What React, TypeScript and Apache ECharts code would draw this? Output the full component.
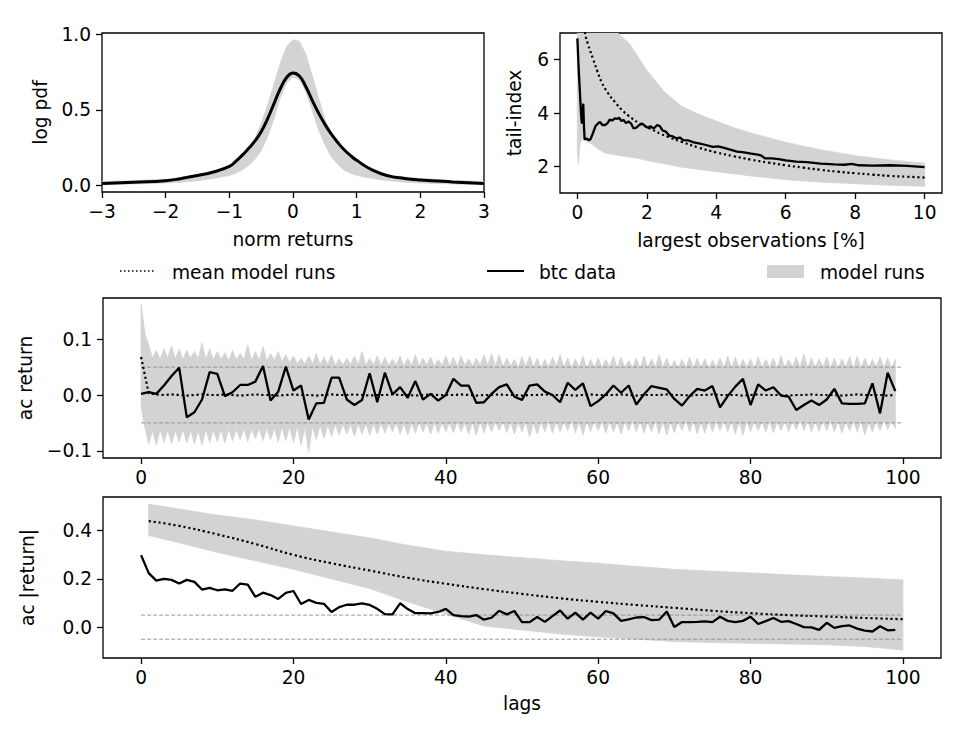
import { useEffect, useRef } from "react";
import * as echarts from "echarts";

// ---------- distribution of normalised returns ----------
const pdfX = [-3, -2.5, -2, -1.75, -1.5, -1.25, -1, -0.9, -0.8, -0.7, -0.6, -0.5, -0.4, -0.3, -0.2, -0.1, 0, 0.1, 0.2, 0.3, 0.4, 0.5, 0.6, 0.7, 0.8, 0.9, 1, 1.25, 1.5, 1.75, 2, 2.5, 3];
const btcPdf = [0.011, 0.02, 0.03, 0.045, 0.064, 0.088, 0.125, 0.158, 0.198, 0.243, 0.292, 0.355, 0.44, 0.54, 0.64, 0.715, 0.745, 0.725, 0.655, 0.565, 0.48, 0.405, 0.34, 0.285, 0.237, 0.198, 0.165, 0.1, 0.062, 0.045, 0.035, 0.022, 0.011];
const runsPdfHigh = [0.025, 0.03, 0.04, 0.05, 0.07, 0.09, 0.12, 0.15, 0.19, 0.24, 0.31, 0.41, 0.53, 0.67, 0.81, 0.92, 0.965, 0.955, 0.87, 0.73, 0.58, 0.44, 0.34, 0.27, 0.22, 0.185, 0.155, 0.1, 0.07, 0.055, 0.045, 0.032, 0.025];
const runsPdfLow = [0.003, 0.008, 0.015, 0.02, 0.03, 0.045, 0.065, 0.08, 0.1, 0.13, 0.17, 0.23, 0.32, 0.44, 0.58, 0.68, 0.72, 0.7, 0.62, 0.5, 0.37, 0.27, 0.19, 0.14, 0.1, 0.08, 0.065, 0.045, 0.03, 0.02, 0.015, 0.008, 0.003];

// ---------- tail index vs. share of largest observations ----------
const tailBtcX = [0.0, 0.04, 0.08, 0.11, 0.13, 0.15, 0.17, 0.19, 0.21, 0.26, 0.32, 0.38, 0.45, 0.52, 0.6, 0.66, 0.72, 0.8, 0.87, 0.93, 1.0, 1.08, 1.15, 1.2, 1.27, 1.33, 1.4, 1.47, 1.55, 1.62, 1.7, 1.78, 1.87, 1.95, 2.02, 2.1, 2.2, 2.3, 2.38, 2.45, 2.55, 2.65, 2.75, 2.85, 2.95, 3.05, 3.2, 3.35, 3.5, 3.7, 3.9, 4.05, 4.2, 4.4, 4.6, 4.8, 5.0, 5.2, 5.3, 5.4, 5.6, 5.8, 6.0, 6.3, 6.6, 7.0, 7.4, 7.7, 7.9, 8.1, 8.5, 9.0, 9.5, 10.0];
const tailBtcY = [6.8, 5.6, 4.6, 3.9, 3.6, 4.0, 4.35, 3.5, 3.0, 3.05, 2.98, 3.02, 3.25, 3.5, 3.62, 3.66, 3.55, 3.55, 3.62, 3.75, 3.72, 3.8, 3.78, 3.82, 3.7, 3.74, 3.62, 3.68, 3.6, 3.42, 3.45, 3.55, 3.6, 3.52, 3.45, 3.5, 3.42, 3.55, 3.5, 3.35, 3.3, 3.15, 3.12, 3.05, 3.08, 2.98, 2.97, 2.9, 2.86, 2.8, 2.73, 2.75, 2.7, 2.63, 2.55, 2.52, 2.48, 2.44, 2.4, 2.3, 2.3, 2.27, 2.22, 2.18, 2.16, 2.1, 2.07, 2.06, 2.09, 2.04, 2.03, 2.04, 2.02, 1.97];
const tailMeanX = [0.15, 0.22, 0.3, 0.46, 0.58, 0.7, 0.88, 1.09, 1.28, 1.47, 1.8, 2.1, 2.4, 2.62, 3.0, 3.5, 4.0, 4.5, 5.0, 5.5, 6.0, 6.5, 7.0, 7.5, 8.0, 8.5, 9.0, 9.5, 10.0];
const tailMeanY = [7.6, 7.0, 6.6, 6.0, 5.55, 5.15, 4.75, 4.4, 4.12, 3.9, 3.6, 3.41, 3.22, 3.1, 2.92, 2.7, 2.52, 2.38, 2.25, 2.14, 2.04, 1.95, 1.87, 1.8, 1.74, 1.69, 1.64, 1.61, 1.58];
const tailRunsX = [0, 0.03, 0.08, 0.15, 0.25, 0.4, 0.6, 0.8, 1.0, 1.25, 1.5, 1.75, 2, 2.5, 3, 3.5, 4, 4.5, 5, 6, 7, 8, 9, 10];
const tailRunsHigh = [7.5, 7.5, 7.5, 7.5, 7.5, 7.5, 7.5, 7.5, 7.2, 6.9, 6.6, 6.1, 5.6, 4.8, 4.25, 3.95, 3.7, 3.45, 3.25, 2.9, 2.62, 2.4, 2.24, 2.12];
const tailRunsLow = [2.5, 2.1, 2.9, 3.05, 2.95, 2.85, 2.65, 2.5, 2.45, 2.4, 2.35, 2.3, 2.22, 2.1, 1.97, 1.88, 1.8, 1.72, 1.64, 1.5, 1.41, 1.35, 1.29, 1.25];

// ---------- autocorrelation of returns, lags 0..99 ----------
const acRetBtc = [
  0.002, 0.005, 0.002, 0.017, 0.034, 0.049, -0.04, -0.031, -0.008, 0.041,
  0.038, -0.002, 0.005, 0.018, 0.018, 0.024, 0.052, -0.01, 0.006, 0.051,
  0.008, 0.017, -0.044, -0.015, -0.014, 0.031, 0.031, -0.008, -0.018, -0.009,
  0.039, -0.013, 0.04, 0.001, 0.014, -0.005, 0.025, -0.008, 0.002, -0.01,
  0.0, 0.029, 0.017, 0.017, -0.014, -0.013, 0.002, 0.014, 0.019, -0.003,
  -0.009, 0.017, 0.019, 0.006, 0.0, -0.013, 0.022, 0.009, 0.021, -0.02,
  -0.011, 0.001, 0.017, 0.004, 0.017, -0.017, 0.001, 0.016, 0.013, 0.01,
  -0.007, -0.019, -0.002, 0.011, 0.008, 0.016, -0.022, -0.002, 0.015, 0.029,
  -0.018, 0.019, 0.008, 0.014, -0.001, -0.003, -0.027, -0.018, -0.01, -0.018,
  -0.008, 0.011, -0.015, -0.016, -0.016, -0.015, 0.021, -0.033, 0.04, 0.007,
];
const acRetMean = [
  0.068, 0.003, 0.001, 0.0, 0.001, 0.0, -0.001, 0.0, 0.001, 0.0,
  0.0, 0.001, 0.0, -0.001, 0.0, 0.001, 0.0, 0.0, -0.001, 0.0,
  0.001, 0.0, 0.0, -0.001, 0.0, 0.001, 0.0, 0.0, 0.001, 0.0,
  -0.001, 0.0, 0.0, 0.001, 0.0, 0.0, -0.001, 0.0, 0.001, 0.0,
  0.0, 0.0, 0.001, 0.0, -0.001, 0.0, 0.0, 0.001, 0.0, 0.0,
  -0.001, 0.0, 0.0, 0.001, 0.0, 0.0, 0.0, -0.001, 0.0, 0.001,
  0.0, 0.0, 0.0, 0.001, 0.0, -0.001, 0.0, 0.0, 0.0, 0.001,
  0.0, 0.0, -0.001, 0.0, 0.0, 0.001, 0.0, 0.0, 0.0, -0.001,
  0.0, 0.001, 0.0, 0.0, 0.0, -0.001, 0.0, 0.0, 0.001, 0.0,
  0.0, 0.0, -0.001, 0.0, 0.001, 0.0, 0.0, 0.0, -0.001, 0.0,
];
// extreme model-run values at each lag and where the runs cross between lags
const acRunsHighAtLag = [
  0.163, 0.09, 0.08, 0.083, 0.088, 0.082, 0.08, 0.078, 0.093, 0.082,
  0.078, 0.076, 0.08, 0.075, 0.09, 0.078, 0.087, 0.074, 0.078, 0.072,
  0.07, 0.066, 0.07, 0.075, 0.068, 0.072, 0.065, 0.066, 0.07, 0.078,
  0.066, 0.07, 0.068, 0.064, 0.07, 0.066, 0.072, 0.066, 0.068, 0.064,
  0.07, 0.068, 0.07, 0.065, 0.066, 0.072, 0.074, 0.072, 0.066, 0.064,
  0.068, 0.07, 0.066, 0.064, 0.068, 0.072, 0.066, 0.065, 0.07, 0.064,
  0.066, 0.064, 0.07, 0.068, 0.062, 0.066, 0.07, 0.065, 0.072, 0.066,
  0.062, 0.064, 0.068, 0.066, 0.065, 0.062, 0.066, 0.07, 0.068, 0.064,
  0.065, 0.068, 0.064, 0.066, 0.07, 0.064, 0.068, 0.074, 0.066, 0.065,
  0.068, 0.066, 0.065, 0.068, 0.07, 0.066, 0.064, 0.068, 0.066, 0.064,
];
const acRunsHighBetween = [
  0.11, 0.066, 0.064, 0.066, 0.065, 0.064, 0.066, 0.065, 0.064, 0.063,
  0.064, 0.062, 0.063, 0.064, 0.062, 0.063, 0.061, 0.062, 0.06, 0.058,
  0.056, 0.055, 0.056, 0.054, 0.055, 0.053, 0.054, 0.055, 0.054, 0.053,
  0.054, 0.052, 0.053, 0.054, 0.052, 0.053, 0.052, 0.054, 0.052, 0.053,
  0.052, 0.051, 0.053, 0.052, 0.054, 0.053, 0.052, 0.051, 0.052, 0.05,
  0.051, 0.05, 0.049, 0.05, 0.051, 0.05, 0.049, 0.05, 0.048, 0.05,
  0.049, 0.05, 0.048, 0.049, 0.05, 0.048, 0.049, 0.05, 0.049, 0.048,
  0.049, 0.05, 0.048, 0.049, 0.048, 0.05, 0.049, 0.048, 0.049, 0.05,
  0.048, 0.049, 0.05, 0.048, 0.049, 0.05, 0.049, 0.048, 0.049, 0.05,
  0.049, 0.048, 0.05, 0.049, 0.048, 0.049, 0.05, 0.049, 0.048,
];
const acRunsLowAtLag = [
  -0.02, -0.088, -0.09, -0.085, -0.088, -0.084, -0.086, -0.088, -0.09, -0.085,
  -0.084, -0.086, -0.082, -0.08, -0.084, -0.078, -0.082, -0.08, -0.084, -0.082,
  -0.086, -0.09, -0.102, -0.08, -0.078, -0.074, -0.072, -0.07, -0.074, -0.07,
  -0.072, -0.07, -0.068, -0.066, -0.07, -0.072, -0.068, -0.066, -0.07, -0.068,
  -0.066, -0.068, -0.066, -0.07, -0.072, -0.068, -0.066, -0.064, -0.068, -0.07,
  -0.066, -0.075, -0.07, -0.066, -0.068, -0.066, -0.064, -0.068, -0.072, -0.066,
  -0.064, -0.068, -0.066, -0.07, -0.064, -0.066, -0.068, -0.066, -0.07, -0.072,
  -0.068, -0.064, -0.066, -0.07, -0.068, -0.066, -0.064, -0.066, -0.07, -0.072,
  -0.066, -0.064, -0.066, -0.068, -0.064, -0.066, -0.062, -0.064, -0.066, -0.065,
  -0.064, -0.066, -0.068, -0.064, -0.066, -0.072, -0.066, -0.064, -0.062, -0.06,
];
const acRunsLowBetween = [
  -0.06, -0.064, -0.062, -0.063, -0.064, -0.062, -0.063, -0.064, -0.062, -0.063,
  -0.062, -0.061, -0.062, -0.06, -0.061, -0.06, -0.059, -0.06, -0.058, -0.057,
  -0.056, -0.058, -0.056, -0.055, -0.054, -0.053, -0.052, -0.053, -0.052, -0.051,
  -0.052, -0.05, -0.051, -0.05, -0.051, -0.05, -0.049, -0.05, -0.049, -0.05,
  -0.049, -0.048, -0.05, -0.049, -0.048, -0.049, -0.048, -0.047, -0.048, -0.049,
  -0.048, -0.05, -0.048, -0.047, -0.048, -0.047, -0.046, -0.048, -0.047, -0.046,
  -0.047, -0.046, -0.048, -0.047, -0.046, -0.047, -0.048, -0.046, -0.047, -0.048,
  -0.047, -0.046, -0.047, -0.048, -0.046, -0.047, -0.046, -0.047, -0.048, -0.047,
  -0.046, -0.047, -0.046, -0.048, -0.046, -0.047, -0.045, -0.046, -0.047, -0.046,
  -0.046, -0.047, -0.048, -0.046, -0.047, -0.048, -0.046, -0.045, -0.046,
];

// ---------- autocorrelation of absolute returns ----------
const acAbsBtc = [
  0.299, 0.224, 0.193, 0.2, 0.196, 0.181, 0.196, 0.188, 0.156, 0.163,
  0.153, 0.157, 0.151, 0.181, 0.176, 0.126, 0.143, 0.133, 0.117, 0.142,
  0.15, 0.096, 0.113, 0.101, 0.097, 0.063, 0.083, 0.093, 0.093, 0.099,
  0.092, 0.076, 0.054, 0.053, 0.099, 0.075, 0.058, 0.058, 0.057, 0.063,
  0.076, 0.05, 0.046, 0.044, 0.05, 0.031, 0.039, 0.068, 0.053, 0.067,
  0.021, 0.021, 0.042, 0.022, 0.046, 0.069, 0.035, 0.06, 0.031, 0.06,
  0.035, 0.067, 0.057, 0.026, 0.032, 0.04, 0.042, 0.029, 0.031, 0.065,
  0.001, 0.021, 0.021, 0.022, 0.024, 0.021, 0.043, 0.026, 0.021, 0.026,
  0.043, 0.013, 0.025, 0.038, 0.022, 0.025, 0.013, 0.0, -0.001, -0.011,
  0.018, -0.003, 0.004, 0.007, -0.006, -0.014, -0.018, 0.004, -0.013, -0.011,
];
const absRunLags = [1, 5, 10, 15, 20, 25, 30, 35, 40, 45, 50, 55, 60, 65, 70, 75, 80, 85, 90, 95, 100];
const acAbsMean = [0.44, 0.42, 0.385, 0.345, 0.3, 0.265, 0.235, 0.205, 0.18, 0.158, 0.138, 0.12, 0.105, 0.092, 0.08, 0.068, 0.058, 0.05, 0.044, 0.038, 0.033];
const acAbsRunsHigh = [0.51, 0.49, 0.465, 0.445, 0.42, 0.395, 0.37, 0.34, 0.315, 0.3, 0.288, 0.276, 0.265, 0.252, 0.24, 0.232, 0.225, 0.217, 0.21, 0.204, 0.196];
const acAbsRunsLow = [0.38, 0.35, 0.31, 0.275, 0.24, 0.2, 0.16, 0.105, 0.055, 0.005, -0.012, -0.028, -0.04, -0.05, -0.06, -0.064, -0.067, -0.07, -0.073, -0.08, -0.095];

// significance bounds drawn as thin dashed lines
const boundLags = [0, 100];
const boundLevel = 0.05;

const FONT = "DejaVu Sans";
const FS = 18.6;
const GRAY = "#d3d3d3";
const DOTS = [2.2, 2.8];

const fmtNum = (digits: number) => (v: number) => {
  const s = Math.abs(v).toFixed(digits);
  return v < 0 ? "\u2212" + s : s;
};

function xAxisOf(grid: number, min: number, max: number, ticks: number[], digits: number, name = "", gap = 38) {
  return {
    type: "value",
    gridIndex: grid,
    min,
    max,
    name,
    nameLocation: "middle",
    nameGap: gap,
    nameTextStyle: { color: "#000", fontFamily: FONT, fontSize: FS },
    splitLine: { show: false },
    axisLine: { show: false, onZero: false },
    axisTick: { show: true, inside: false, length: 6, lineStyle: { color: "#000", width: 1.3 }, customValues: ticks },
    axisLabel: { color: "#000", fontFamily: FONT, fontSize: FS, margin: 10, customValues: ticks, formatter: fmtNum(digits) },
  };
}

function yAxisOf(grid: number, min: number, max: number, ticks: number[], digits: number, name: string, gap: number) {
  return {
    type: "value",
    gridIndex: grid,
    min,
    max,
    name,
    nameLocation: "middle",
    nameRotate: 90,
    nameGap: gap,
    nameTextStyle: { color: "#000", fontFamily: FONT, fontSize: FS },
    splitLine: { show: false },
    axisLine: { show: false, onZero: false },
    axisTick: { show: true, inside: false, length: 6, lineStyle: { color: "#000", width: 1.3 }, customValues: ticks },
    axisLabel: { color: "#000", fontFamily: FONT, fontSize: FS, margin: 11, customValues: ticks, formatter: fmtNum(digits) },
  };
}

// filled envelope of the model runs, drawn as one polygon through the axis scales
function bandSeries(grid: number, xs: number[], lo: number[], hi: number[]) {
  const upper = xs.map((x, i) => [x, hi[i]]);
  const lower = xs.map((x, i) => [x, lo[i]]).reverse();
  const pts = upper.concat(lower);
  return {
    type: "custom",
    xAxisIndex: grid,
    yAxisIndex: grid,
    clip: true,
    silent: true,
    z: 1,
    data: [[xs[0], lo[0]]],
    renderItem: (_p: any, api: any) => ({
      type: "polygon",
      shape: { points: pts.map((p) => api.coord(p)) },
      style: { fill: GRAY, stroke: GRAY, lineWidth: 0.8 },
    }),
  };
}

function lineSeries(grid: number, xs: number[], ys: number[], kind: "btc" | "mean" | "bound", width = 2.3, smooth = false) {
  const style =
    kind === "btc"
      ? { color: "#000", width, type: "solid" }
      : kind === "mean"
      ? { color: "#000", width: 2.2, type: DOTS }
      : { color: "#8c8c8c", width: 0.9, type: [4, 2] };
  return {
    type: "line",
    xAxisIndex: grid,
    yAxisIndex: grid,
    data: xs.map((x, i) => [x, ys[i]]),
    symbol: "none",
    showSymbol: false,
    smooth,
    silent: true,
    clip: true,
    z: kind === "btc" ? 5 : kind === "mean" ? 4 : 3,
    lineStyle: style,
  };
}

// interleave per-lag extremes with the crossing levels between lags
const midX: number[] = [];
const midHi: number[] = [];
const midLo: number[] = [];
acRunsHighAtLag.forEach((v, i) => {
  midX.push(i);
  midHi.push(v);
  midLo.push(acRunsLowAtLag[i]);
  if (i < acRunsHighBetween.length) {
    midX.push(i + 0.5);
    midHi.push(acRunsHighBetween[i]);
    midLo.push(acRunsLowBetween[i]);
  }
});
const lags = acRetBtc.map((_, i) => i);

const gridStyle = { show: true, borderColor: "#000", borderWidth: 1.3, backgroundColor: "transparent", containLabel: false };

const option = {
  animation: false,
  backgroundColor: "#fff",
  grid: [
    { ...gridStyle, left: 102, top: 33, width: 382, height: 159 },
    { ...gridStyle, left: 560, top: 33, width: 382, height: 160 },
    { ...gridStyle, left: 103, top: 298, width: 838, height: 160 },
    { ...gridStyle, left: 103, top: 497, width: 838, height: 161 },
  ],
  xAxis: [
    xAxisOf(0, -3, 3, [-3, -2, -1, 0, 1, 2, 3], 0, "norm returns", 38),
    xAxisOf(1, -0.5, 10.5, [0, 2, 4, 6, 8, 10], 0, "largest observations [%]", 38),
    xAxisOf(2, -5, 105, [0, 20, 40, 60, 80, 100], 0),
    xAxisOf(3, -5, 105, [0, 20, 40, 60, 80, 100], 0, "lags", 36),
  ],
  yAxis: [
    yAxisOf(0, -0.045, 1.01, [0, 0.5, 1], 1, "log pdf", 52),
    yAxisOf(1, 1, 7, [2, 4, 6], 0, "tail-index", 36),
    yAxisOf(2, -0.113, 0.174, [-0.1, 0, 0.1], 1, "ac return", 68),
    yAxisOf(3, -0.128, 0.54, [0, 0.2, 0.4], 1, "ac |return|", 66),
  ],
  series: [
    bandSeries(0, pdfX, runsPdfLow, runsPdfHigh),
    lineSeries(0, pdfX, btcPdf, "btc", 3, true),

    bandSeries(1, tailRunsX, tailRunsLow, tailRunsHigh),
    lineSeries(1, tailMeanX, tailMeanY, "mean", 2, true),
    lineSeries(1, tailBtcX, tailBtcY, "btc"),

    bandSeries(2, midX, midLo, midHi),
    lineSeries(2, boundLags, [boundLevel, boundLevel], "bound"),
    lineSeries(2, boundLags, [-boundLevel, -boundLevel], "bound"),
    lineSeries(2, lags, acRetMean, "mean"),
    lineSeries(2, lags, acRetBtc, "btc"),

    bandSeries(3, absRunLags, acAbsRunsLow, acAbsRunsHigh),
    lineSeries(3, boundLags, [boundLevel, boundLevel], "bound"),
    lineSeries(3, boundLags, [-boundLevel, -boundLevel], "bound"),
    lineSeries(3, absRunLags, acAbsMean, "mean", 2, true),
    lineSeries(3, lags, acAbsBtc, "btc"),
  ],
  graphic: [
    { type: "line", shape: { x1: 120, y1: 271, x2: 156, y2: 271 }, style: { stroke: "#000", lineWidth: 1.6, lineDash: [1.5, 2.5] } },
    { type: "text", x: 172, y: 272, style: { text: "mean model runs", fontFamily: FONT, fontSize: FS, fill: "#000", verticalAlign: "middle" } },
    { type: "line", shape: { x1: 487, y1: 271, x2: 524, y2: 271 }, style: { stroke: "#000", lineWidth: 2.2 } },
    { type: "text", x: 539, y: 272, style: { text: "btc data", fontFamily: FONT, fontSize: FS, fill: "#000", verticalAlign: "middle" } },
    { type: "rect", shape: { x: 767, y: 265, width: 37, height: 13 }, style: { fill: GRAY } },
    { type: "text", x: 820, y: 272, style: { text: "model runs", fontFamily: FONT, fontSize: FS, fill: "#000", verticalAlign: "middle" } },
  ],
};

export default function App() {
  const ref = useRef<HTMLDivElement>(null);
  useEffect(() => {
    if (!ref.current) return;
    const chart = echarts.init(ref.current, null, { renderer: "svg" });
    chart.setOption(option as any);
    return () => chart.dispose();
  }, []);
  return <div ref={ref} style={{ position: "fixed", left: 0, top: 0, width: 970, height: 730 }} />;
}
